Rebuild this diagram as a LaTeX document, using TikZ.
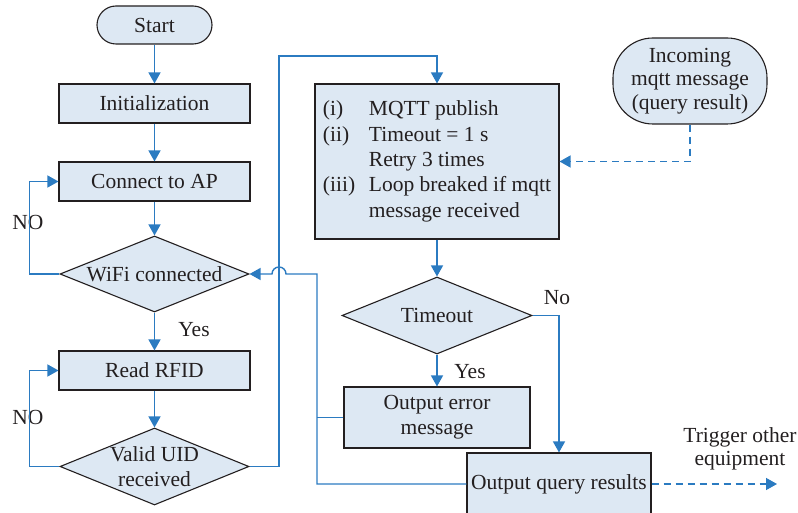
\documentclass[tikz,border=0pt]{standalone}
\usepackage{fontspec}
\setmainfont{Liberation Serif}
\usetikzlibrary{shapes.geometric, arrows.meta, positioning}
\definecolor{boxfill}{HTML}{DDE8F3}
\definecolor{flowblue}{HTML}{2B7BC1}
\definecolor{inkgray}{HTML}{231F20}

\tikzset{
  process/.style={rectangle, draw=inkgray, fill=boxfill, text=inkgray, line width=1.1pt,
    minimum width=191pt, minimum height=39pt, inner sep=0pt, align=center},
  terminal/.style={process, rounded corners=19pt, minimum width=115pt, minimum height=38pt},
  decision/.style={diamond, draw=inkgray, fill=boxfill, line width=1.1pt,
    minimum width=189pt, minimum height=76pt, inner sep=0pt},
  tag/.style={text=inkgray, inner sep=0pt, align=center},
  link/.style={draw=flowblue, line width=1.4pt},
  flow/.style={link, -{Triangle[width=12pt,length=11pt]}},
  dflow/.style={flow, dash pattern=on 7pt off 5pt}
}

\begin{document}
\begin{tikzpicture}[x=1pt, y=-1pt, font=\fontsize{21.5}{25.3}\selectfont]
\useasboundingbox (0,0) rectangle (798,513);
\clip (0,0) rectangle (798,513);

% left column
\node[terminal] (start) at (154.5,25) {Start};
\node[process] (init) at (154.5,103.5) {Initialization};
\node[process] (ap) at (154.5,181.5) {Connect to AP};
\node[decision, label={[tag]center:WiFi connected}] (wifi) at (154.5,274) {};
\node[process] (rfid) at (154.5,370.5) {Read RFID};
\node[decision, minimum height=77pt, label={[tag]center:Valid UID\\received}] (uid) at (154.5,466.5) {};

% right column
\node[process, minimum width=244pt, minimum height=155pt, align=left] (mqtt) at (437,161.5) {%
  \begin{tabular}{@{}p{46pt}@{}l@{}}
  (i) & MQTT publish\\
  (ii) & Timeout = 1 s\\
       & Retry 3 times\\
  (iii) & Loop breaked if mqtt\\
        & message received
  \end{tabular}};
\node[terminal, rounded corners=40pt, minimum width=154pt, minimum height=86pt,
  font=\fontsize{21.5}{23.5}\selectfont] (inc) at (690,81) {Incoming\\mqtt message\\(query result)};
\node[decision, minimum width=190pt, minimum height=77pt, label={[tag]center:Timeout}] (tmo) at (437,315.5) {};
\node[process, minimum width=186pt, minimum height=61pt] (oerr) at (437,417.5) {Output error\\message};
\node[process, minimum width=184pt, minimum height=62pt] (oqr) at (559,484) {Output query results};

% branch labels
\node[tag] (yes1) at (194,330) {Yes};
\node[tag] (no1) at (28,222) {NO};
\node[tag] (no2) at (28,417) {NO};
\node[tag] (yes2) at (470,372) {Yes};
\node[tag] (no3) at (557,298) {No};
\node[tag, font=\fontsize{21.5}{23}\selectfont] (trig) at (740,449) {Trigger other\\equipment};

% corner points
\coordinate (upleft) at (279,56);
\coordinate (bus) at (317,274);
\coordinate (hop) at (286,274);
\coordinate (outend) at (777,484);

% connectors
\draw[flow] (start) -- (init);
\draw[flow] (init) -- (ap);
\draw[flow] (ap) -- (wifi);
\draw[flow] (wifi) -- (rfid);
\draw[flow] (rfid) -- (uid);
\draw[flow] (wifi.west) -- ++(-30,0) |- (ap.west);
\draw[flow] (uid.west) -- ++(-30,0) |- (rfid.west);
\draw[flow] (uid.east) -| (upleft) -| (mqtt.north);
\draw[flow] (mqtt) -- (tmo);
\draw[flow] (tmo) -- (oerr);
\draw[flow] (tmo.east) -| (oqr.north);
\draw[link] (oerr.west) -- (oerr.west -| bus);
\draw[flow] (oqr.west) -| (bus) -- (hop) arc[start angle=0, end angle=180, radius=7pt] -- (wifi.east);
\draw[dflow] (inc.south) |- (mqtt.east);
\draw[dflow] (oqr.east) -- (outend);

\end{tikzpicture}
\end{document}
